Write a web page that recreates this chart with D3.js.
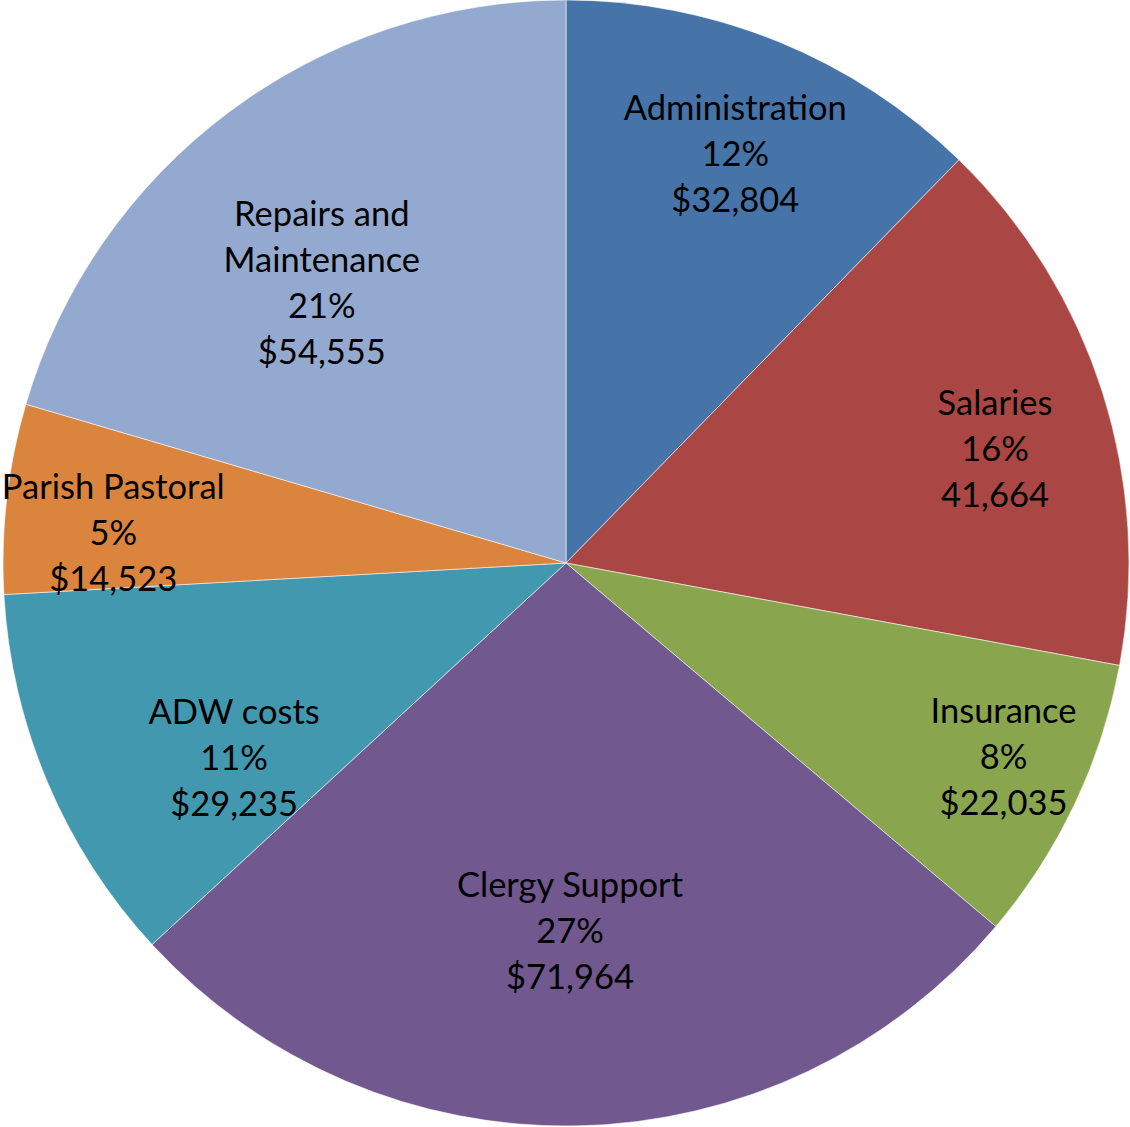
<!DOCTYPE html>
<html>
<head>
<meta charset="utf-8">
<script src="https://cdn.jsdelivr.net/npm/d3@7"></script>
<style>
  html, body { margin: 0; padding: 0; background: #fff; }
  svg { display: block; }
</style>
</head>
<body>
<div id="chart"></div>
<script>
// expense categories, clockwise from 12 o'clock
var categories = ["Administration", "Salaries", "Insurance", "Clergy Support", "ADW costs", "Parish Pastoral", "Repairs and Maintenance"];
var values = [32804, 41664, 22035, 71964, 29235, 14523, 54555];
var percentLabels = ["12%", "16%", "8%", "27%", "11%", "5%", "21%"];
var valueLabels = ["$32,804", "41,664", "$22,035", "$71,964", "$29,235", "$14,523", "$54,555"];
var nameLines = [["Administration"], ["Salaries"], ["Insurance"], ["Clergy Support"], ["ADW costs"], ["Parish Pastoral"], ["Repairs and", "Maintenance"]];

var colors = ["#4674A9", "#AA4744", "#89A54E", "#71588F", "#4299AF", "#DB843D", "#94A9CF"];

// label placement: fraction of radius, angle nudge in degrees (best-fit look)
var labelPos = {
    "Administration": [0.788, 0.3],
    "Salaries": [0.789, 2.6],
    "Insurance": [0.849, -1.6],
    "Clergy Support": [0.652, 0.6],
    "ADW costs": [0.683, -7.4],
    "Parish Pastoral": [0.806, -2.7],
    "Repairs and Maintenance": [0.661, -4.2]
};

var width = 1130, height = 1127;
var cx = 566, cy = 563, radius = 563;
var lineHeight = 46;

var rows = categories.map(function (c, i) {
    return {name: c, value: values[i], pct: percentLabels[i], val: valueLabels[i], lines: nameLines[i], color: colors[i]};
});

var svg = d3.select("#chart")
    .append("svg")
    .attr("width", width)
    .attr("height", height)
    .append("g")
    .attr("transform", "translate(" + cx + "," + cy + ")");

var pie = d3.pie()
    .sort(null)
    .value(function (d) { return d.value; });

var arc = d3.arc()
    .innerRadius(0)
    .outerRadius(radius);

var arcs = pie(rows);

svg.selectAll("path.slice")
    .data(arcs)
    .enter()
    .append("path")
    .attr("class", "slice")
    .attr("d", arc)
    .style("fill", function (d) { return d.data.color; })
    .style("stroke", "rgba(255,255,255,0.55)")
    .style("stroke-width", 1);

var labels = svg.selectAll("text.label")
    .data(arcs)
    .enter()
    .append("text")
    .attr("class", "label")
    .attr("text-anchor", "middle")
    .style("font-family", "Lato, 'Open Sans', sans-serif")
    .style("font-size", "34.5px")
    .style("fill", "#000")
    .attr("transform", function (d) {
        var p = labelPos[d.data.name];
        var a = (d.startAngle + d.endAngle) / 2 + p[1] * Math.PI / 180;
        var r = p[0] * radius;
        return "translate(" + (r * Math.sin(a)) + "," + (-r * Math.cos(a)) + ")";
    });

labels.each(function (d) {
    var lines = d.data.lines.concat([d.data.pct, d.data.val]);
    var n = lines.length;
    var t = d3.select(this);
    lines.forEach(function (s, i) {
        t.append("tspan")
            .attr("x", 0)
            .attr("y", (i - (n - 1) / 2) * lineHeight + 13)
            .text(s);
    });
});
</script>
</body>
</html>
